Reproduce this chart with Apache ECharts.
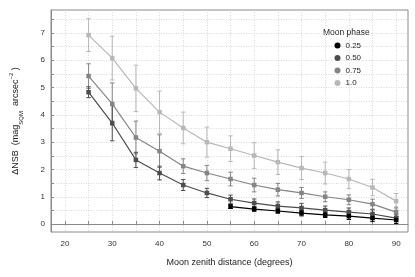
<!DOCTYPE html>
<html>
<head>
<meta charset="utf-8">
<script src="https://cdn.jsdelivr.net/npm/echarts@6/dist/echarts.min.js"></script>
<style>html,body{margin:0;padding:0;background:#fff}#c{width:415px;height:277px}</style>
</head>
<body>
<div id="c"></div>
<script>
const zenith = [25,30,35,40,45,50,55,60,65,70,75,80,85,90];
const zenith025 = [55,60,65,70,75,80,85,90];
const phase025 = [0.64,0.55,0.48,0.40,0.34,0.29,0.22,0.15];
const err025 = [0.07,0.08,0.08,0.10,0.10,0.12,0.13,0.13];
const phase050 = [4.83,3.70,2.35,1.87,1.43,1.14,0.91,0.77,0.66,0.59,0.51,0.44,0.37,0.22];
const err050 = [0.20,0.65,0.28,0.25,0.20,0.17,0.15,0.15,0.15,0.17,0.15,0.15,0.15,0.12];
const phase075 = [5.42,4.40,3.17,2.67,2.12,1.87,1.65,1.43,1.26,1.14,1.00,0.89,0.73,0.44];
const err075 = [0.45,0.77,0.60,0.60,0.27,0.28,0.25,0.25,0.23,0.20,0.18,0.18,0.18,0.18];
const phase100 = [6.92,6.08,4.97,4.10,3.52,3.00,2.76,2.51,2.27,2.05,1.87,1.65,1.34,0.84];
const err100 = [0.60,0.80,0.85,0.77,0.58,0.55,0.47,0.47,0.45,0.42,0.40,0.35,0.30,0.28];
const xTickValues = [20,25,30,35,40,45,50,55,60,65,70,75,80,85,90];
const xLabelValues = [20,30,40,50,60,70,80,90];
const yTickValues = [0,0.5,1,1.5,2,2.5,3,3.5,4,4.5,5,5.5,6,6.5,7,7.5];
const yLabelValues = [0,1,2,3,4,5,6,7];
const phaseNames = ['0.25','0.50','0.75','1.0'];
const colors = ['#000000','#4d4d4d','#858585','#b8b8b8'];

const FONT = 'Liberation Sans, Arial, Helvetica, sans-serif';
const groups = [
  {name:'1.0', x:zenith, v:phase100, e:err100, c:colors[3]},
  {name:'0.75', x:zenith, v:phase075, e:err075, c:colors[2]},
  {name:'0.50', x:zenith, v:phase050, e:err050, c:colors[1]},
  {name:'0.25', x:zenith025, v:phase025, e:err025, c:colors[0]}
];

function errSeries(g){
  return {
    type:'custom', name:'err'+g.name, z:2,
    data: g.x.map((z,i)=>[z, g.v[i]-g.e[i], g.v[i]+g.e[i]]),
    renderItem(params, api){
      const x = api.value(0);
      const top = api.coord([x, api.value(2)]);
      const bot = api.coord([x, api.value(1)]);
      const hw = 2.2;
      const style = {stroke:g.c, lineWidth:1};
      return {type:'group', children:[
        {type:'line', shape:{x1:top[0],y1:top[1],x2:bot[0],y2:bot[1]}, style},
        {type:'line', shape:{x1:top[0]-hw,y1:top[1],x2:top[0]+hw,y2:top[1]}, style},
        {type:'line', shape:{x1:bot[0]-hw,y1:bot[1],x2:bot[0]+hw,y2:bot[1]}, style}
      ]};
    },
    encode:{x:0, y:[1,2]}
  };
}
function lineSeries(g){
  return {
    type:'line', name:g.name, z:3,
    data: g.x.map((z,i)=>[z, g.v[i]]),
    symbol:'rect', symbolSize:4.5, showSymbol:true,
    lineStyle:{color:g.c, width:1.2},
    itemStyle:{color:g.c},
    animation:false
  };
}
const series = [];
groups.forEach(g=>{ series.push(errSeries(g)); series.push(lineSeries(g)); });

const chart = echarts.init(document.getElementById('c'), null, {renderer:'canvas'});
chart.setOption({
  animation:false,
  textStyle:{fontFamily:FONT},
  grid:{left:49, right:7, top:10, bottom:45, show:true, borderColor:'#8a8a8a', borderWidth:1},
  graphic:[{type:'text', left:323, top:28, style:{text:'Moon phase', fontSize:8.5, fontFamily:FONT, fill:'#222'}}],
  legend:{
    data:phaseNames, orient:'vertical', left:329.5, top:36.5,
    icon:'circle', itemWidth:6, itemHeight:6, itemGap:4.5, itemTextGap:3.5,
    textStyle:{fontSize:8, fontFamily:FONT, color:'#222'}, selectedMode:false
  },
  xAxis:{
    type:'value', min:17.06, max:92.5,
    name:'Moon zenith distance (degrees)', nameLocation:'middle', nameGap:26,
    nameTextStyle:{fontSize:9, fontFamily:FONT, color:'#222'},
    axisLine:{show:true, lineStyle:{color:'#8a8a8a'}},
    axisTick:{show:true, inside:true, length:3, customValues:xTickValues, lineStyle:{color:'#8a8a8a'}},
    axisLabel:{customValues:xLabelValues, fontSize:8, margin:8, color:'#333', fontFamily:FONT},
    splitLine:{show:true, lineStyle:{type:[1,1.5], color:'#cfcfcf', width:0.8}}
  },
  yAxis:{
    type:'value', min:-0.29, max:7.84,
    name:'ΔNSB  (mag{sub|SQM}  arcsec{sup|−2} )', nameLocation:'middle', nameGap:27,
    nameTextStyle:{fontSize:9, fontFamily:FONT, color:'#222', lineHeight:16,
      rich:{sub:{fontSize:6, fontFamily:FONT, verticalAlign:'bottom', color:'#222'},
            sup:{fontSize:6, fontFamily:FONT, verticalAlign:'top', color:'#222'}}},
    axisLine:{show:true, lineStyle:{color:'#8a8a8a'}},
    axisTick:{show:true, inside:true, length:3, customValues:yTickValues, lineStyle:{color:'#8a8a8a'}},
    axisLabel:{customValues:yLabelValues, fontSize:8, margin:6, color:'#333', fontFamily:FONT},
    splitLine:{show:true, lineStyle:{type:[1,1.5], color:'#cfcfcf', width:0.8}}
  },
  series
});
</script>
</body>
</html>
